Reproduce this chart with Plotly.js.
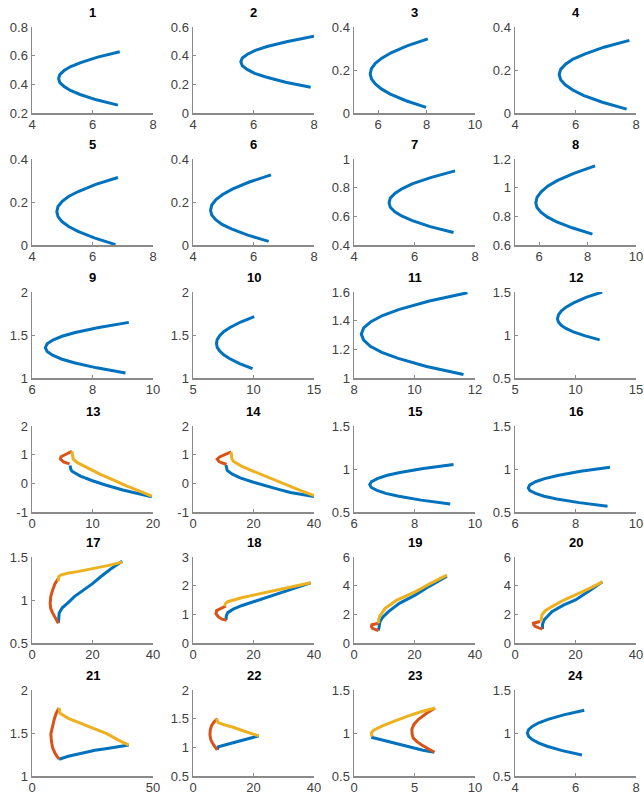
<!DOCTYPE html>
<html><head><meta charset="utf-8">
<script src="https://cdn.plot.ly/plotly-3.0.1.min.js"></script>
<style>html,body{margin:0;padding:0;background:#fff}#chart{width:644px;height:797px}</style>
</head><body><div id="chart"></div>
<script>
// ---------------- data ----------------
const s1x = [6.90,6.17,5.61,5.28,5.06,4.92,4.88,4.92,5.06,5.27,5.59,6.13,6.84];
const s1y = [0.627,0.590,0.552,0.524,0.496,0.468,0.440,0.412,0.385,0.357,0.329,0.292,0.255];
const s2x = [8.00,7.13,6.45,6.06,5.80,5.63,5.58,5.63,5.79,6.04,6.41,7.06,7.89];
const s2y = [0.535,0.499,0.464,0.437,0.410,0.384,0.357,0.330,0.304,0.277,0.251,0.215,0.180];
const s3x = [8.05,7.19,6.53,6.15,5.88,5.72,5.67,5.72,5.88,6.13,6.50,7.15,7.98];
const s3y = [0.345,0.312,0.280,0.255,0.231,0.206,0.182,0.159,0.135,0.112,0.088,0.057,0.026];
const s4x = [7.78,6.94,6.30,5.92,5.67,5.51,5.46,5.51,5.66,5.91,6.26,6.89,7.69];
const s4y = [0.338,0.306,0.274,0.251,0.227,0.203,0.179,0.155,0.131,0.107,0.082,0.050,0.018];
const s5x = [6.84,6.11,5.55,5.22,5.00,4.86,4.82,4.86,4.99,5.21,5.52,6.06,6.76];
const s5y = [0.314,0.282,0.250,0.227,0.203,0.179,0.155,0.132,0.109,0.086,0.063,0.033,0.002];
const s6x = [6.58,5.86,5.30,4.98,4.76,4.62,4.58,4.62,4.75,4.96,5.27,5.81,6.50];
const s6y = [0.326,0.293,0.260,0.235,0.211,0.186,0.161,0.139,0.118,0.096,0.075,0.046,0.017];
const s7x = [7.34,6.56,5.94,5.60,5.36,5.20,5.16,5.20,5.35,5.59,5.93,6.52,7.29];
const s7y = [0.917,0.872,0.828,0.794,0.761,0.727,0.694,0.663,0.632,0.601,0.570,0.528,0.487];
const s8x = [8.31,7.43,6.74,6.35,6.08,5.91,5.86,5.91,6.07,6.33,6.70,7.36,8.20];
const s8y = [1.152,1.100,1.049,1.010,0.971,0.933,0.894,0.861,0.829,0.796,0.763,0.720,0.676];
const s9x = [9.20,8.21,7.43,6.99,6.69,6.50,6.44,6.50,6.68,6.97,7.39,8.14,9.09];
const s9y = [1.647,1.588,1.529,1.485,1.441,1.397,1.353,1.309,1.265,1.221,1.177,1.118,1.059];
const s10x = [10.06,8.94,8.06,7.56,7.22,7.00,6.94,7.00,7.21,7.54,8.01,8.85,9.92];
const s10y = [1.714,1.651,1.588,1.541,1.494,1.447,1.400,1.357,1.313,1.270,1.226,1.168,1.110];
const s11x = [11.75,10.49,9.50,8.94,8.56,8.32,8.24,8.32,8.54,8.92,9.46,10.40,11.62];
const s11y = [1.595,1.537,1.479,1.436,1.393,1.349,1.306,1.264,1.221,1.179,1.137,1.080,1.024];
const s12x = [12.20,10.87,9.84,9.25,8.84,8.59,8.51,8.59,8.82,9.21,9.77,10.74,12.00];
const s12y = [1.500,1.437,1.374,1.327,1.280,1.233,1.186,1.150,1.113,1.077,1.040,0.992,0.943];
const s15x = [9.29,8.29,7.52,7.07,6.77,6.58,6.52,6.57,6.76,7.05,7.48,8.22,9.18];
const s15y = [1.053,1.006,0.959,0.924,0.889,0.854,0.819,0.785,0.751,0.717,0.683,0.638,0.593];
const s16x = [9.14,8.17,7.41,6.98,6.68,6.49,6.44,6.49,6.68,6.96,7.38,8.12,9.06];
const s16y = [1.021,0.973,0.925,0.888,0.852,0.816,0.780,0.748,0.716,0.684,0.652,0.609,0.566];
const s24x = [6.29,5.61,5.09,4.79,4.58,4.45,4.41,4.45,4.57,4.77,5.06,5.56,6.21];
const s24y = [1.264,1.211,1.158,1.119,1.079,1.040,1.000,0.962,0.923,0.885,0.846,0.795,0.744];

// three-branch panels: B = blue, O = orange, Y = yellow
const s13Bx = [6.3,6.4,6.6,8.0,10.0,12.0,15.0,17.5,19.8];
const s13By = [0.62,0.50,0.42,0.25,0.09,-0.05,-0.23,-0.35,-0.47];
const s13Ox = [6.6,5.6,4.8,4.7,5.2,6.2];
const s13Oy = [1.12,1.03,0.93,0.85,0.75,0.68];
const s13Yx = [6.6,6.8,7.5,9.5,11.3,13.5,15.7,17.8,19.8];
const s13Yy = [1.12,0.85,0.72,0.50,0.31,0.11,-0.10,-0.27,-0.45];

const s14Bx = [10.9,11.0,11.3,13.0,15.6,20.0,24.4,28.0,32.2,36.0,40.0];
const s14By = [0.64,0.55,0.45,0.32,0.19,0.04,-0.10,-0.20,-0.32,-0.40,-0.46];
const s14Ox = [12.6,10.5,8.8,8.0,8.6,10.0,11.1];
const s14Oy = [1.10,1.00,0.92,0.84,0.76,0.70,0.66];
const s14Yx = [12.6,12.8,13.3,16.0,20.0,25.0,30.0,35.0,40.0];
const s14Yy = [1.10,0.88,0.77,0.60,0.42,0.20,-0.03,-0.23,-0.43];

const s17Bx = [8.7,9.0,10.0,11.7,14.0,17.2,20.0,22.7,26.0,29.8];
const s17By = [0.73,0.85,0.91,0.96,1.04,1.115,1.19,1.27,1.36,1.45];
const s17Ox = [8.7,7.6,6.8,6.2,6.0,6.2,6.8,7.7,8.7];
const s17Oy = [1.25,1.19,1.115,1.04,0.96,0.90,0.85,0.79,0.73];
const s17Yx = [8.7,8.8,9.5,11.7,15.0,20.5,25.0,29.8];
const s17Yy = [1.22,1.27,1.29,1.31,1.33,1.365,1.40,1.44];

const s18Bx = [10.9,11.0,11.5,13.3,16.0,20.0,25.0,30.0,34.5,38.9];
const s18By = [0.81,0.95,1.06,1.18,1.30,1.44,1.62,1.79,1.94,2.10];
const s18Ox = [10.9,9.2,7.8,7.6,8.4,9.6,11.1];
const s18Oy = [1.29,1.20,1.13,1.02,0.91,0.83,0.79];
const s18Yx = [10.4,10.8,11.5,13.3,16.0,20.0,25.0,30.0,34.5,38.9];
const s18Yy = [1.29,1.38,1.44,1.50,1.58,1.67,1.78,1.90,2.00,2.10];

const s19Bx = [8.1,8.3,8.6,9.5,11.4,15.0,20.2,25.0,30.7];
const s19By = [0.87,1.20,1.50,1.80,2.19,2.77,3.34,3.97,4.66];
const s19Ox = [8.1,6.9,5.9,5.8,6.0,7.0,8.1];
const s19Oy = [1.38,1.34,1.27,1.15,1.04,0.95,0.87];
const s19Yx = [8.1,8.1,8.6,10.3,14.0,20.2,25.0,30.7];
const s19Yy = [1.38,1.60,1.90,2.42,2.97,3.57,4.12,4.73];

const s20Bx = [9.1,9.1,9.6,12.2,16.0,20.0,24.5,28.9];
const s20By = [0.97,1.30,1.61,2.19,2.64,3.00,3.62,4.27];
const s20Ox = [8.3,7.2,6.1,6.2,6.7,7.9,9.1];
const s20Oy = [1.50,1.46,1.38,1.27,1.15,1.05,0.97];
const s20Yx = [8.6,8.7,8.9,10.0,12.2,16.0,20.0,24.5,28.9];
const s20Yy = [1.50,1.75,1.96,2.25,2.54,2.98,3.35,3.80,4.27];

const s21Bx = [11.2,15.0,21.5,26.0,31.1,35.5,40.0];
const s21By = [1.195,1.23,1.27,1.30,1.32,1.34,1.36];
const s21Ox = [11.2,10.0,9.2,8.4,7.8,8.0,8.5,9.6,11.2];
const s21Oy = [1.79,1.73,1.66,1.58,1.49,1.41,1.33,1.26,1.195];
const s21Yx = [11.2,11.6,15.0,21.5,26.0,31.1,35.5,40.0];
const s21Yy = [1.79,1.73,1.67,1.60,1.55,1.49,1.42,1.36];

const s22Bx = [8.0,8.4,10.5,13.3,17.0,21.7];
const s22By = [0.96,1.01,1.04,1.08,1.14,1.20];
const s22Ox = [8.0,6.9,6.1,5.7,5.6,5.9,6.7,8.0];
const s22Oy = [1.50,1.44,1.375,1.30,1.22,1.13,1.05,0.955];
const s22Yx = [7.8,8.3,10.5,13.3,17.0,21.7];
const s22Yy = [1.50,1.43,1.39,1.35,1.28,1.20];

const s23Bx = [1.43,2.0,2.86,3.8,4.78,5.7,6.64];
const s23By = [0.95,0.93,0.90,0.865,0.83,0.80,0.776];
const s23Ox = [6.7,6.0,5.33,4.95,4.78,4.80,4.90,5.20,5.60,6.10,6.64];
const s23Oy = [1.29,1.23,1.16,1.10,1.04,0.99,0.94,0.90,0.86,0.82,0.776];
const s23Yx = [1.48,1.43,1.6,2.3,3.4,4.5,5.6,6.7];
const s23Yy = [0.96,1.00,1.03,1.08,1.14,1.20,1.25,1.29];

// axis ranges and tick labels per panel
const xTicks = [[4,6,8],[4,6,8],[6,8,10],[4,6,8],[4,6,8],[4,6,8],[4,6,8],[6,8,10],
  [6,8,10],[5,10,15],[8,10,12],[5,10,15],[0,10,20],[0,20,40],[6,8,10],[6,8,10],
  [0,20,40],[0,20,40],[0,20,40],[0,20,40],[0,50],[0,20,40],[0,5,10],[4,6,8]];
const xRanges = [[4,8],[4,8],[5,10],[4,8],[4,8],[4,8],[4,8],[5,10],
  [6,10],[5,15],[8,12],[5,15],[0,20],[0,40],[6,10],[6,10],
  [0,40],[0,40],[0,40],[0,40],[0,50],[0,40],[0,10],[4,8]];
const yTicks = [[0.2,0.4,0.6,0.8],[0,0.2,0.4,0.6],[0,0.2,0.4],[0,0.2,0.4],[0,0.2,0.4],[0,0.2,0.4],
  [0.4,0.6,0.8,1],[0.6,0.8,1,1.2],[1,1.5,2],[1,1.5,2],[1,1.2,1.4,1.6],[0.5,1,1.5],
  [-1,0,1,2],[-1,0,1,2],[0.5,1,1.5],[0.5,1,1.5],[0.5,1,1.5],[0,1,2,3],
  [0,2,4,6],[0,2,4,6],[1,1.5,2],[0.5,1,1.5,2],[0.5,1,1.5],[0.5,1,1.5]];
const panelTitles = ['1','2','3','4','5','6','7','8','9','10','11','12',
  '13','14','15','16','17','18','19','20','21','22','23','24'];

const BLUE = '#0072BD', ORANGE = '#D95319', YELLOW = '#EDB120';

const panels = {
  1:[[s1x,s1y,BLUE]], 2:[[s2x,s2y,BLUE]], 3:[[s3x,s3y,BLUE]], 4:[[s4x,s4y,BLUE]],
  5:[[s5x,s5y,BLUE]], 6:[[s6x,s6y,BLUE]], 7:[[s7x,s7y,BLUE]], 8:[[s8x,s8y,BLUE]],
  9:[[s9x,s9y,BLUE]], 10:[[s10x,s10y,BLUE]], 11:[[s11x,s11y,BLUE]], 12:[[s12x,s12y,BLUE]],
  13:[[s13Bx,s13By,BLUE],[s13Ox,s13Oy,ORANGE],[s13Yx,s13Yy,YELLOW]],
  14:[[s14Bx,s14By,BLUE],[s14Ox,s14Oy,ORANGE],[s14Yx,s14Yy,YELLOW]],
  15:[[s15x,s15y,BLUE]], 16:[[s16x,s16y,BLUE]],
  17:[[s17Bx,s17By,BLUE],[s17Ox,s17Oy,ORANGE],[s17Yx,s17Yy,YELLOW]],
  18:[[s18Bx,s18By,BLUE],[s18Ox,s18Oy,ORANGE],[s18Yx,s18Yy,YELLOW]],
  19:[[s19Bx,s19By,BLUE],[s19Ox,s19Oy,ORANGE],[s19Yx,s19Yy,YELLOW]],
  20:[[s20Bx,s20By,BLUE],[s20Ox,s20Oy,ORANGE],[s20Yx,s20Yy,YELLOW]],
  21:[[s21Bx,s21By,BLUE],[s21Ox,s21Oy,ORANGE],[s21Yx,s21Yy,YELLOW]],
  22:[[s22Bx,s22By,BLUE],[s22Ox,s22Oy,ORANGE],[s22Yx,s22Yy,YELLOW]],
  23:[[s23Bx,s23By,BLUE],[s23Ox,s23Oy,ORANGE],[s23Yx,s23Yy,YELLOW]],
  24:[[s24x,s24y,BLUE]]
};

// ---------------- layout ----------------
const W = 644, H = 797;
const colLeft = [32,193,354,515], colW = 121;
const rowTop = [27,159,292,426,557,690], rowH = 86;
const FONT = 'Liberation Sans, Arial, Helvetica, sans-serif';

const traces = [];
const layout = {
  width: W, height: H, margin: {l:0,r:0,t:0,b:0},
  paper_bgcolor: '#fff', plot_bgcolor: '#fff', showlegend: false,
  font: {family: FONT, size: 13, color: '#404040'},
  annotations: []
};
function fmt(v){ return String(v); }
for (let i = 1; i <= 24; i++) {
  const r = Math.floor((i-1)/4), c = (i-1)%4;
  const xa = i === 1 ? 'x' : 'x'+i, ya = i === 1 ? 'y' : 'y'+i;
  const xk = i === 1 ? 'xaxis' : 'xaxis'+i, yk = i === 1 ? 'yaxis' : 'yaxis'+i;
  const common = {showline:true, linecolor:'#8a8a8a', linewidth:1.5, ticks:'inside',
    ticklen:3, tickcolor:'#8a8a8a', tickwidth:1, showgrid:false, zeroline:false,
    fixedrange:true, tickfont:{family:FONT, size:13, color:'#404040'}};
  const yt = yTicks[i-1];
  layout[xk] = Object.assign({}, common, {
    domain:[colLeft[c]/W, (colLeft[c]+colW)/W], anchor: ya, ticklabelstandoff: -1,
    range: xRanges[i-1], tickmode:'array', tickvals:xTicks[i-1], ticktext:xTicks[i-1].map(fmt)});
  layout[yk] = Object.assign({}, common, {
    domain:[1-(rowTop[r]+rowH)/H, 1-rowTop[r]/H], anchor: xa,
    range: [yt[0], yt[yt.length-1]], tickmode:'array', tickvals:yt, ticktext:yt.map(fmt)});
  layout.annotations.push({text:'<b>'+panelTitles[i-1]+'</b>', xref:xa+' domain', yref:ya+' domain',
    x:0.5, y:1, xanchor:'center', yanchor:'bottom', yshift:5, showarrow:false,
    font:{family:FONT, size:13, color:'#000'}});
  panels[i].forEach(s => {
    traces.push({type:'scatter', mode:'lines', x:s[0], y:s[1], xaxis:xa, yaxis:ya,
      line:{color:s[2], width:3}, hoverinfo:'skip', cliponaxis:false});
  });
}
Plotly.newPlot('chart', traces, layout, {staticPlot:true, displayModeBar:false});
</script></body></html>
